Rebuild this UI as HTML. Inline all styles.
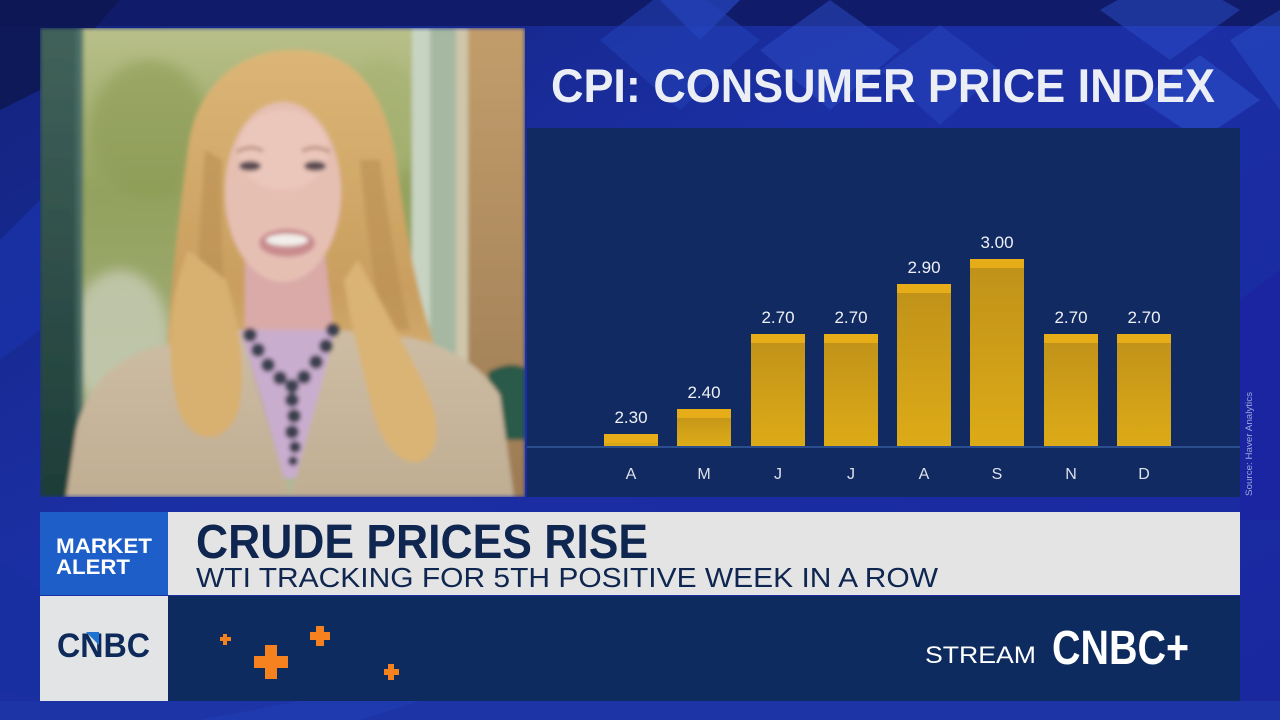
<!DOCTYPE html>
<html>
<head>
<meta charset="utf-8">
<style>
  html,body{margin:0;padding:0;background:#1a2c9e;}
  body{width:1280px;height:720px;overflow:hidden;}
  svg{display:block;}
  text{font-family:"Liberation Sans", Arial, sans-serif;}
</style>
</head>
<body>
<svg width="1280" height="720" viewBox="0 0 1280 720" xmlns="http://www.w3.org/2000/svg">
  <defs>
    <linearGradient id="bg" x1="0" y1="0" x2="1" y2="1">
      <stop offset="0" stop-color="#13227a"/>
      <stop offset="0.4" stop-color="#1b2fa4"/>
      <stop offset="1" stop-color="#1a28a0"/>
    </linearGradient>
    <linearGradient id="bar" x1="0" y1="0" x2="0" y2="1">
      <stop offset="0" stop-color="#bf9119"/>
      <stop offset="1" stop-color="#ddab17"/>
    </linearGradient>
    <linearGradient id="foliage" x1="0" y1="0" x2="0" y2="1">
      <stop offset="0" stop-color="#b9c08a"/>
      <stop offset="0.35" stop-color="#93a25e"/>
      <stop offset="0.7" stop-color="#9eaa72"/>
      <stop offset="1" stop-color="#b3b99a"/>
    </linearGradient>
    <linearGradient id="lframe" x1="0" y1="0" x2="0" y2="1">
      <stop offset="0" stop-color="#41625b"/>
      <stop offset="1" stop-color="#1e3d38"/>
    </linearGradient>
    <linearGradient id="wood" x1="0" y1="0" x2="0" y2="1">
      <stop offset="0" stop-color="#c29d6c"/>
      <stop offset="1" stop-color="#9c7b53"/>
    </linearGradient>
    <linearGradient id="hair" x1="0" y1="0" x2="0" y2="1">
      <stop offset="0" stop-color="#dcb677"/>
      <stop offset="0.6" stop-color="#c99e5e"/>
      <stop offset="1" stop-color="#e0be86"/>
    </linearGradient>
    <linearGradient id="jacket" x1="0" y1="0" x2="0" y2="1">
      <stop offset="0" stop-color="#cdbda4"/>
      <stop offset="1" stop-color="#c0ae93"/>
    </linearGradient>
    <clipPath id="photo"><rect x="40" y="28" width="485" height="469"/></clipPath>
    <filter id="soft" x="-5%" y="-5%" width="110%" height="110%"><feGaussianBlur stdDeviation="2"/></filter>
    <filter id="soft2"><feGaussianBlur stdDeviation="6"/></filter>
  </defs>

  <!-- background -->
  <rect width="1280" height="720" fill="url(#bg)"/>
  <rect x="0" y="0" width="1280" height="26" fill="#101c6a"/>
  <polygon points="0,0 120,0 40,90 0,110" fill="#0d1650" opacity="0.8"/>
  <polygon points="0,240 40,200 40,330 0,360" fill="#1a36b0" opacity="0.6"/>
  <polygon points="0,560 40,590 40,700 0,690" fill="#1530a0" opacity="0.6"/>
  <polygon points="660,0 740,0 700,40" fill="#2646c0" opacity="0.7"/>
  <polygon points="600,40 680,-20 760,40 680,110" fill="#2341b8" opacity="0.55"/>
  <polygon points="760,50 830,0 900,50 830,110" fill="#2b4cc6" opacity="0.5"/>
  <polygon points="880,70 940,25 1000,70 940,125" fill="#2a4ac2" opacity="0.45"/>
  <polygon points="1100,10 1170,-30 1240,10 1170,60" fill="#2a4bc8" opacity="0.5"/>
  <polygon points="1140,100 1200,55 1260,100 1200,140" fill="#2d52cc" opacity="0.55"/>
  <polygon points="1230,40 1280,10 1280,110" fill="#2a4fca" opacity="0.5"/>
  <polygon points="1240,300 1280,270 1280,520 1240,520" fill="#1c24a2" opacity="0.8"/>
  <rect x="0" y="701" width="1280" height="19" fill="#1c34a6"/>
  <polygon points="200,720 300,701 420,701 360,720" fill="#2140b4" opacity="0.6"/>

  <!-- title -->
  <text x="551" y="102" font-size="47" font-weight="bold" fill="#eceef5" textLength="664" lengthAdjust="spacingAndGlyphs">CPI: CONSUMER PRICE INDEX</text>

  <!-- chart panel -->
  <rect x="527" y="128" width="713" height="369" fill="#112b62"/>
  <rect x="527" y="446" width="713" height="2" fill="#2b4f8e"/>

  <g>
    <rect x="604" y="434" width="54" height="12" fill="url(#bar)"/><rect x="604" y="434" width="54" height="9" fill="#e6ad18"/>
    <rect x="677" y="409" width="54" height="37" fill="url(#bar)"/><rect x="677" y="409" width="54" height="9" fill="#e6ad18"/>
    <rect x="751" y="334" width="54" height="112" fill="url(#bar)"/><rect x="751" y="334" width="54" height="9" fill="#e6ad18"/>
    <rect x="824" y="334" width="54" height="112" fill="url(#bar)"/><rect x="824" y="334" width="54" height="9" fill="#e6ad18"/>
    <rect x="897" y="284" width="54" height="162" fill="url(#bar)"/><rect x="897" y="284" width="54" height="9" fill="#e6ad18"/>
    <rect x="970" y="259" width="54" height="187" fill="url(#bar)"/><rect x="970" y="259" width="54" height="9" fill="#e6ad18"/>
    <rect x="1044" y="334" width="54" height="112" fill="url(#bar)"/><rect x="1044" y="334" width="54" height="9" fill="#e6ad18"/>
    <rect x="1117" y="334" width="54" height="112" fill="url(#bar)"/><rect x="1117" y="334" width="54" height="9" fill="#e6ad18"/>
  </g>
  <g font-size="17" fill="#eef0f4" text-anchor="middle">
    <text x="631" y="423">2.30</text>
    <text x="704" y="398">2.40</text>
    <text x="778" y="323">2.70</text>
    <text x="851" y="323">2.70</text>
    <text x="924" y="273">2.90</text>
    <text x="997" y="248">3.00</text>
    <text x="1071" y="323">2.70</text>
    <text x="1144" y="323">2.70</text>
  </g>
  <g font-size="16" fill="#dde1ea" text-anchor="middle">
    <text x="631" y="479">A</text>
    <text x="704" y="479">M</text>
    <text x="778" y="479">J</text>
    <text x="851" y="479">J</text>
    <text x="924" y="479">A</text>
    <text x="997" y="479">S</text>
    <text x="1071" y="479">N</text>
    <text x="1144" y="479">D</text>
  </g>
  <text transform="translate(1252,496) rotate(-90)" font-size="9" fill="#9aa6d8" textLength="104" lengthAdjust="spacingAndGlyphs">Source: Haver Analytics</text>

  <!-- photo -->
  <g clip-path="url(#photo)">
    <g filter="url(#soft)">
      <rect x="40" y="28" width="485" height="469" fill="url(#foliage)"/>
      <ellipse cx="120" cy="340" rx="50" ry="70" fill="#c7ccb6" opacity="0.8" filter="url(#soft2)"/>
      <ellipse cx="380" cy="120" rx="40" ry="60" fill="#a7b373" opacity="0.7" filter="url(#soft2)"/>
      <ellipse cx="150" cy="130" rx="60" ry="70" fill="#8d9c55" opacity="0.6" filter="url(#soft2)"/>
      <rect x="40" y="28" width="42" height="469" fill="url(#lframe)"/>
      <rect x="76" y="28" width="8" height="469" fill="#557a70" opacity="0.6"/>
      <rect x="412" y="28" width="18" height="469" fill="#c8d4c2"/>
      <rect x="430" y="28" width="26" height="469" fill="#a6b8a2"/>
      <rect x="456" y="28" width="12" height="469" fill="#cfc6aa"/>
      <rect x="468" y="28" width="57" height="469" fill="url(#wood)"/>
      <path d="M488,372 Q510,360 525,368 L525,440 L492,440 Z" fill="#2b5a48"/>

      <!-- hair back -->
      <path d="M298,50 C235,48 195,90 188,150 C180,210 174,260 170,310 C165,360 165,400 188,432 L425,448 C448,420 444,380 430,330 C414,280 404,220 396,160 C384,90 355,52 298,50 Z" fill="url(#hair)"/>
      <path d="M205,150 C200,220 196,280 200,330 L230,330 C222,280 220,220 222,160 Z" fill="#b98e52" opacity="0.6"/>
      <path d="M360,160 C366,220 372,280 385,330 L410,330 C398,280 388,220 380,160 Z" fill="#b98e52" opacity="0.6"/>
      <!-- neck -->
      <path d="M245,255 L325,255 L335,345 L245,345 Z" fill="#d9aaa8"/>
      <!-- face -->
      <ellipse cx="283" cy="192" rx="58" ry="90" fill="#e6bfb3"/>
      <ellipse cx="283" cy="150" rx="45" ry="40" fill="#ecc9bd" opacity="0.7"/>
      <ellipse cx="250" cy="166" rx="11" ry="5" fill="#5c4c52"/>
      <ellipse cx="315" cy="166" rx="11" ry="5" fill="#5c4c52"/>
      <path d="M237,152 Q250,144 263,151" stroke="#b48a78" stroke-width="3" fill="none"/>
      <path d="M302,151 Q316,144 330,152" stroke="#b48a78" stroke-width="3" fill="none"/>
      <ellipse cx="287" cy="243" rx="28" ry="14" fill="#c98b8e"/>
      <ellipse cx="287" cy="240" rx="21" ry="6" fill="#f2eeea"/>
      <!-- shirt -->
      <path d="M240,330 L335,330 L300,478 L280,478 Z" fill="#c9adcf"/>
      <!-- jacket -->
      <path d="M66,497 L76,430 Q90,370 150,348 L240,330 L282,470 L290,497 Z" fill="url(#jacket)"/>
      <path d="M290,497 L298,470 L336,330 L410,338 Q470,350 500,395 L514,497 Z" fill="url(#jacket)"/>
      <path d="M240,330 L282,470 L262,400 Z" fill="#b09d82"/>
      <!-- necklace -->
      <g fill="#3a4150">
        <circle cx="250" cy="335" r="7"/><circle cx="258" cy="350" r="7"/><circle cx="268" cy="365" r="7"/>
        <circle cx="280" cy="378" r="7"/><circle cx="292" cy="386" r="7"/><circle cx="304" cy="377" r="7"/>
        <circle cx="316" cy="362" r="7"/><circle cx="326" cy="346" r="7"/><circle cx="333" cy="330" r="7"/>
        <circle cx="292" cy="400" r="7"/><circle cx="294" cy="416" r="7"/><circle cx="292" cy="432" r="7"/>
        <circle cx="295" cy="447" r="6"/><circle cx="293" cy="461" r="5"/>
      </g>
      <!-- hair locks over shoulders -->
      <path d="M188,250 C168,300 164,360 180,415 C196,445 225,445 238,412 C248,370 238,320 226,280 Z" fill="#d8b070"/>
      <path d="M358,260 C380,300 402,340 422,380 C442,420 442,452 420,462 C398,466 378,440 370,400 C360,360 348,310 344,280 Z" fill="#dab474"/>
    </g>
  </g>

  <!-- lower banner -->
  <rect x="40" y="512" width="128" height="83" fill="#1e5ec8"/>
  <rect x="168" y="512" width="1072" height="83" fill="#e4e4e4"/>
  <rect x="40" y="596" width="128" height="105" fill="#e3e4e6"/>
  <rect x="168" y="596" width="1072" height="105" fill="#0d2b5e"/>

  <text x="56" y="553" font-size="21" font-weight="bold" fill="#ffffff" textLength="96" lengthAdjust="spacingAndGlyphs">MARKET</text>
  <text x="56" y="574" font-size="21" font-weight="bold" fill="#ffffff" textLength="74" lengthAdjust="spacingAndGlyphs">ALERT</text>

  <text x="196" y="558" font-size="48" font-weight="bold" fill="#0f2650" textLength="452" lengthAdjust="spacingAndGlyphs">CRUDE PRICES RISE</text>
  <text x="196" y="587" font-size="28" fill="#0f2650" textLength="742" lengthAdjust="spacingAndGlyphs">WTI TRACKING FOR 5TH POSITIVE WEEK IN A ROW</text>

  <text x="57" y="657" font-size="34" font-weight="bold" fill="#0e2a5a" textLength="93" lengthAdjust="spacingAndGlyphs">CNBC</text>
  <polygon points="86,632 99,632 99,645" fill="#1f74d2"/>

  <g fill="#f5821f">
    <rect x="223" y="634" width="4" height="11"/><rect x="220" y="637" width="11" height="4"/>
    <rect x="265" y="645" width="12" height="34"/><rect x="254" y="656" width="34" height="12"/>
    <rect x="316" y="626" width="8" height="20"/><rect x="310" y="632" width="20" height="8"/>
    <rect x="388" y="664" width="6" height="16"/><rect x="384" y="669" width="15" height="6"/>
  </g>

  <text x="925" y="663" font-size="24" fill="#ffffff" textLength="111" lengthAdjust="spacingAndGlyphs">STREAM</text>
  <text x="1052" y="664" font-size="48" font-weight="bold" fill="#ffffff" textLength="137" lengthAdjust="spacingAndGlyphs">CNBC+</text>
</svg>
</body>
</html>
